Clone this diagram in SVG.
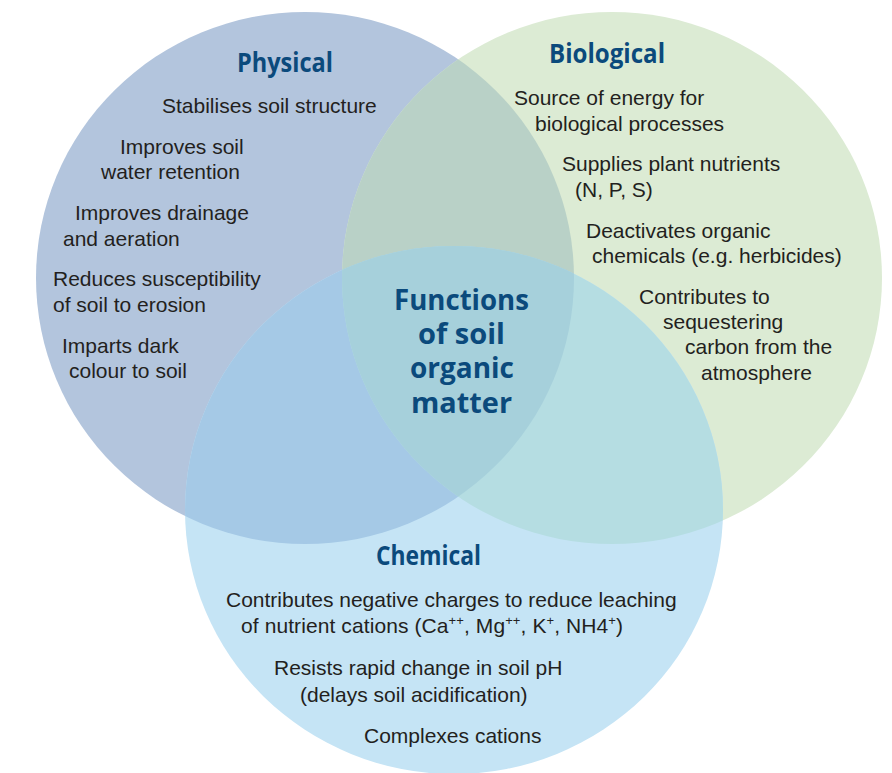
<svg xmlns="http://www.w3.org/2000/svg" width="892" height="773" viewBox="0 0 892 773">
<style>
  .body { font-family: "Liberation Sans", Arial, sans-serif; font-size: 21px; fill: #231f20; }
  .head { font-family: "Open Sans", "DejaVu Sans", sans-serif; font-weight: 700; fill: #0b4a7c; }
  .sup { font-size: 13px; }
</style>
<defs>
  <clipPath id="cpPhys"><ellipse cx="305" cy="278" rx="269" ry="266"/></clipPath>
  <clipPath id="cpBio"><ellipse cx="612" cy="278" rx="270" ry="266"/></clipPath>
  <clipPath id="cpChem"><ellipse cx="454" cy="510" rx="269" ry="264"/></clipPath>
</defs>
<rect width="892" height="773" fill="#ffffff"/>

<g id="physical">
  <ellipse cx="305" cy="278" rx="269" ry="266" fill="#b3c5dd"/>
</g>
<g id="biological">
  <ellipse cx="612" cy="278" rx="270" ry="266" fill="#dcebd4"/>
</g>
<g id="chemical">
  <ellipse cx="454" cy="510" rx="269" ry="264" fill="#c5e4f5"/>
</g>

<g id="overlaps">
  <g clip-path="url(#cpPhys)">
    <ellipse cx="612" cy="278" rx="270" ry="266" fill="#b9d1c7"/>
    <ellipse cx="454" cy="510" rx="269" ry="264" fill="#a5c9e6"/>
  </g>
  <g clip-path="url(#cpBio)">
    <ellipse cx="454" cy="510" rx="269" ry="264" fill="#b5dde2"/>
  </g>
  <g clip-path="url(#cpPhys)">
    <g clip-path="url(#cpBio)">
      <ellipse cx="454" cy="510" rx="269" ry="264" fill="#a6d0db"/>
    </g>
  </g>
</g>

<g id="physical-text">
  <text class="head" x="237" y="72" font-size="26" textLength="96" lengthAdjust="spacingAndGlyphs">Physical</text>
  <text class="body" x="162" y="113">Stabilises soil structure</text>
  <text class="body" x="120" y="154">Improves soil</text>
  <text class="body" x="101" y="179">water retention</text>
  <text class="body" x="75" y="220">Improves drainage</text>
  <text class="body" x="63" y="246">and aeration</text>
  <text class="body" x="53" y="286">Reduces susceptibility</text>
  <text class="body" x="53" y="312">of soil to erosion</text>
  <text class="body" x="62" y="353">Imparts dark</text>
  <text class="body" x="69" y="378">colour to soil</text>
</g>

<g id="biological-text">
  <text class="head" x="549" y="63" font-size="26" textLength="116" lengthAdjust="spacingAndGlyphs">Biological</text>
  <text class="body" x="514" y="105">Source of energy for</text>
  <text class="body" x="535" y="131">biological processes</text>
  <text class="body" x="562" y="171">Supplies plant nutrients</text>
  <text class="body" x="575" y="197">(N, P, S)</text>
  <text class="body" x="586" y="238">Deactivates organic</text>
  <text class="body" x="592" y="263">chemicals (e.g. herbicides)</text>
  <text class="body" x="639" y="304">Contributes to</text>
  <text class="body" x="663" y="329">sequestering</text>
  <text class="body" x="685" y="354">carbon from the</text>
  <text class="body" x="701" y="380">atmosphere</text>
</g>

<g id="chemical-text">
  <text class="head" x="376" y="565" font-size="26" textLength="105" lengthAdjust="spacingAndGlyphs">Chemical</text>
  <text class="body" x="226" y="607">Contributes negative charges to reduce leaching</text>
  <text class="body" x="241" y="633" textLength="382" lengthAdjust="spacing">of nutrient cations (Ca<tspan class="sup" dy="-8">++</tspan><tspan dy="8">, Mg</tspan><tspan class="sup" dy="-8">++</tspan><tspan dy="8">, K</tspan><tspan class="sup" dy="-8">+</tspan><tspan dy="8">, NH4</tspan><tspan class="sup" dy="-8">+</tspan><tspan dy="8">)</tspan></text>
  <text class="body" x="274" y="675">Resists rapid change in soil pH</text>
  <text class="body" x="300" y="702">(delays soil acidification)</text>
  <text class="body" x="364" y="743">Complexes cations</text>
</g>

<g id="center-title">
  <text class="head" font-size="29"><tspan x="394" y="310" textLength="135" lengthAdjust="spacingAndGlyphs">Functions</tspan><tspan x="418" y="344" textLength="87" lengthAdjust="spacingAndGlyphs">of soil</tspan><tspan x="410" y="378" textLength="104" lengthAdjust="spacingAndGlyphs">organic</tspan><tspan x="411" y="413" textLength="101" lengthAdjust="spacingAndGlyphs">matter</tspan></text>
</g>
</svg>
